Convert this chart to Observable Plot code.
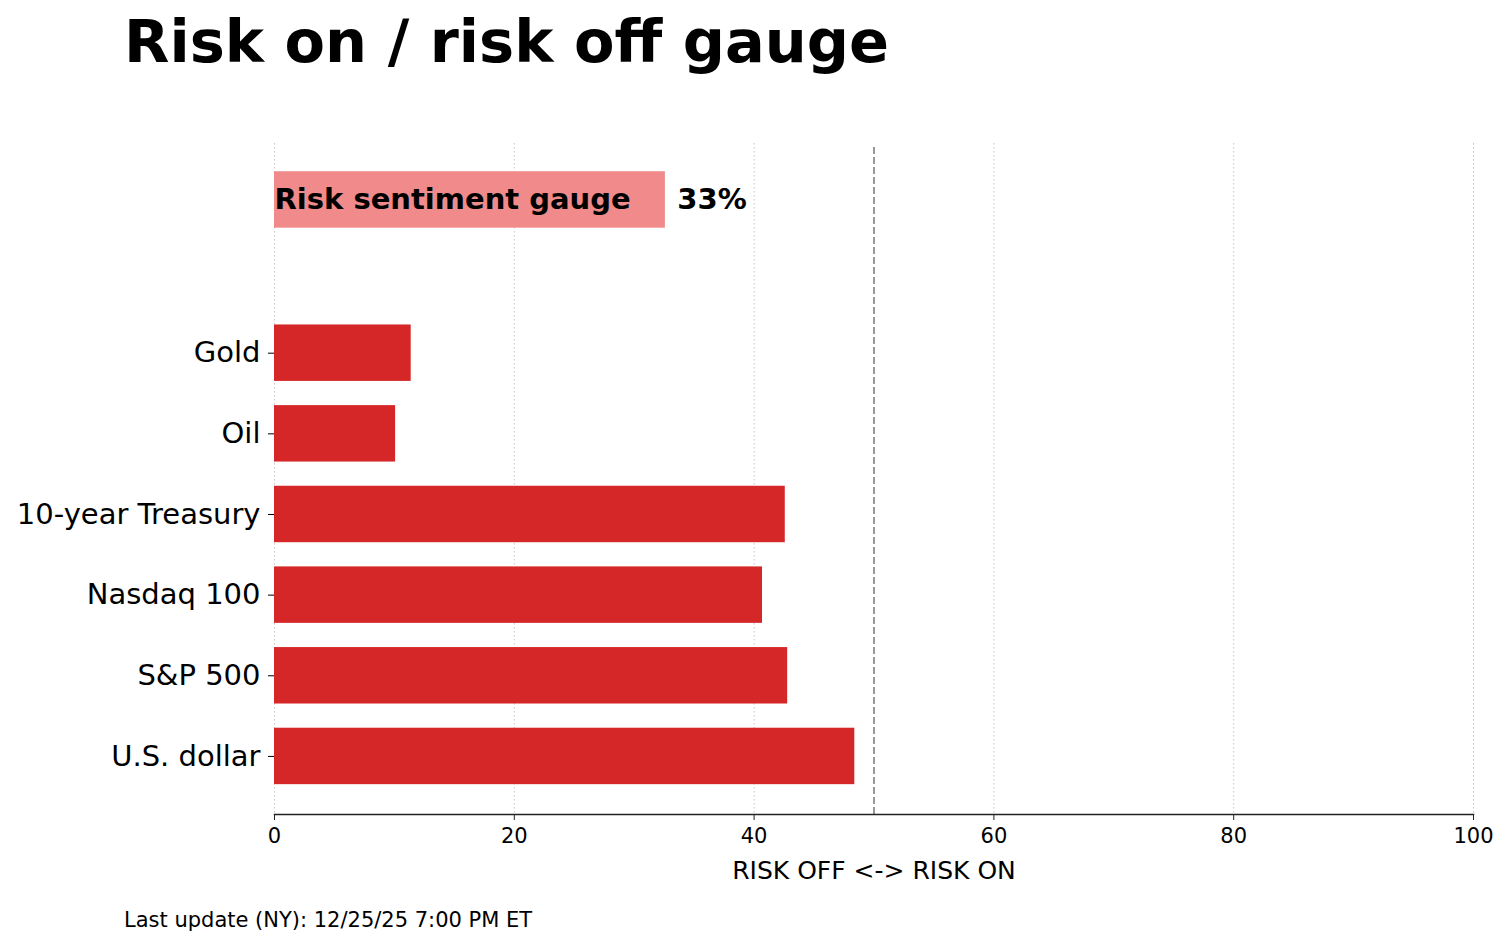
<!DOCTYPE html>
<html>
<head>
<meta charset="utf-8">
<script src="https://cdn.jsdelivr.net/npm/d3@7"></script>
<script src="https://cdn.jsdelivr.net/npm/@observablehq/plot@0.6"></script>
<style>
  html, body { margin: 0; padding: 0; background: white; }
  body { width: 1509px; height: 946px; position: relative; overflow: hidden; font-family: "DejaVu Sans", sans-serif; }
  #title { position: absolute; left: 124px; top: 12px; font-size: 59px; line-height: 59px; font-weight: bold; color: black; white-space: nowrap; }
  #chart { position: absolute; left: 0; top: 100px; }
  #footer { position: absolute; left: 124px; top: 910px; font-size: 21px; line-height: 21px; color: black; white-space: nowrap; }
</style>
</head>
<body>
<div id="title">Risk on / risk off gauge</div>
<div id="chart"></div>
<div id="footer">Last update (NY): 12/25/25 7:00 PM ET</div>
<script>
// ---- data ----
const categories = ["U.S. dollar", "S&P 500", "Nasdaq 100", "10-year Treasury", "Oil", "Gold"];
const values = [48.4, 42.8, 40.7, 42.6, 10.1, 11.4];
const gaugeLabel = "Risk sentiment gauge";
const gaugeValue = 32.6;
const xTicks = [0, 20, 40, 60, 80, 100];
const axisLabel = "RISK OFF <-> RISK ON";
const neutral = 50;

// ---- build ----
const rows = categories.map((c, i) => ({name: c, value: values[i], pos: i}));
const gauge = [{name: gaugeLabel, value: gaugeValue, pos: categories.length + 0.9}];
const half = 0.35;

const chart = Plot.plot({
  width: 1509,
  height: 800,
  marginLeft: 274,
  marginRight: 36,
  marginTop: 43,
  marginBottom: 86,
  style: {fontFamily: "DejaVu Sans", background: "white", color: "black", overflow: "visible"},
  x: {domain: [0, 100]},
  y: {domain: [-0.72, 7.6]},
  marks: [
    Plot.gridX(xTicks, {stroke: "#c8c8c8", strokeOpacity: 1, strokeWidth: 1, strokeDasharray: "1.5,2.5"}),
    Plot.ruleX([neutral], {stroke: "#808080", strokeWidth: 1.6, strokeDasharray: "7,3", y1: -0.72, y2: 7.58}),
    Plot.rectX(rows, {x1: 0, x2: "value", y1: d => d.pos - half, y2: d => d.pos + half, fill: "#d62728"}),
    Plot.rectX(gauge, {x1: 0, x2: "value", y1: d => d.pos - half, y2: d => d.pos + half, fill: "#f08a8b"}),
    Plot.text(gauge, {x: 0, y: "pos", text: "name", textAnchor: "start", fontWeight: "bold", fontSize: 29, fill: "black"}),
    Plot.text(gauge, {x: d => d.value + 1, y: "pos", text: d => Math.round(d.value) + "%", textAnchor: "start", fontWeight: "bold", fontSize: 29, fill: "black"}),
    Plot.axisY(d3.range(categories.length), {tickFormat: i => categories[i], tickSize: 6, tickPadding: 8, fontSize: 29, stroke: "black", label: null}),
    Plot.axisX(xTicks, {tickSize: 6, tickPadding: 8, fontSize: 21, label: null, stroke: "#222"}),
    Plot.frame({anchor: "bottom", stroke: "#222", strokeWidth: 1.5}),
    Plot.text([axisLabel], {frameAnchor: "bottom", dy: 64, fontSize: 25, fill: "black"})
  ]
});
document.getElementById("chart").appendChild(chart);
</script>
</body>
</html>
